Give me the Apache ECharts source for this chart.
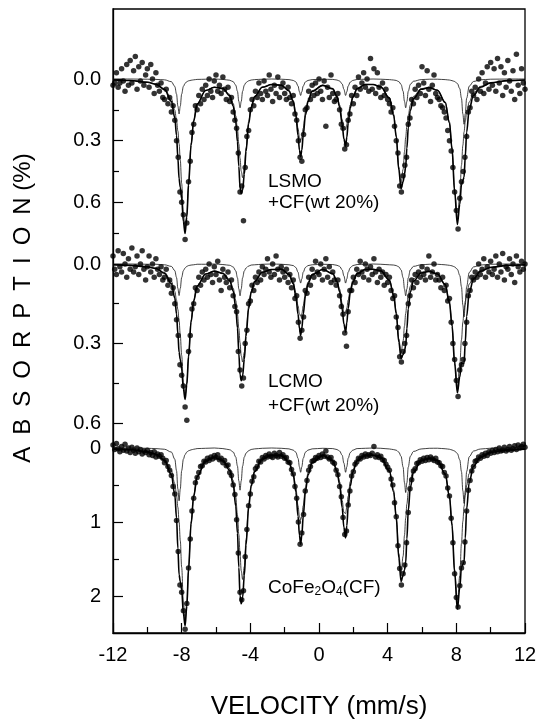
<!DOCTYPE html>
<html><head><meta charset="utf-8">
<script src="https://cdn.jsdelivr.net/npm/echarts@6/dist/echarts.min.js"></script>
<style>html,body{margin:0;padding:0;background:#fff}#chart{width:539px;height:720px}</style>
</head><body><div id="chart"></div>
<script>
// Velocity channels (mm/s)
const velocity = [
-12,-11.9,-11.8,-11.7,-11.6,-11.5,-11.4,-11.3,-11.2,-11.1,
-11,-10.9,-10.8,-10.7,-10.6,-10.5,-10.4,-10.3,-10.2,-10.1,
-10,-9.9,-9.8,-9.7,-9.6,-9.5,-9.4,-9.3,-9.2,-9.1,
-9,-8.9,-8.8,-8.7,-8.6,-8.5,-8.4,-8.3,-8.2,-8.1,
-8,-7.9,-7.8,-7.7,-7.6,-7.5,-7.4,-7.3,-7.2,-7.1,
-7,-6.9,-6.8,-6.7,-6.6,-6.5,-6.4,-6.3,-6.2,-6.1,
-6,-5.9,-5.8,-5.7,-5.6,-5.5,-5.4,-5.3,-5.2,-5.1,
-5,-4.9,-4.8,-4.7,-4.6,-4.5,-4.4,-4.3,-4.2,-4.1,
-4,-3.9,-3.8,-3.7,-3.6,-3.5,-3.4,-3.3,-3.2,-3.1,
-3,-2.9,-2.8,-2.7,-2.6,-2.5,-2.4,-2.3,-2.2,-2.1,
-2,-1.9,-1.8,-1.7,-1.6,-1.5,-1.4,-1.3,-1.2,-1.1,
-1,-0.9,-0.8,-0.7,-0.6,-0.5,-0.4,-0.3,-0.2,-0.1,
0,0.1,0.2,0.3,0.4,0.5,0.6,0.7,0.8,0.9,
1,1.1,1.2,1.3,1.4,1.5,1.6,1.7,1.8,1.9,
2,2.1,2.2,2.3,2.4,2.5,2.6,2.7,2.8,2.9,
3,3.1,3.2,3.3,3.4,3.5,3.6,3.7,3.8,3.9,
4,4.1,4.2,4.3,4.4,4.5,4.6,4.7,4.8,4.9,
5,5.1,5.2,5.3,5.4,5.5,5.6,5.7,5.8,5.9,
6,6.1,6.2,6.3,6.4,6.5,6.6,6.7,6.8,6.9,
7,7.1,7.2,7.3,7.4,7.5,7.6,7.7,7.8,7.9,
8,8.1,8.2,8.3,8.4,8.5,8.6,8.7,8.8,8.9,
9,9.1,9.2,9.3,9.4,9.5,9.6,9.7,9.8,9.9,
10,10.1,10.2,10.3,10.4,10.5,10.6,10.7,10.8,10.9,
11,11.1,11.2,11.3,11.4,11.5,11.6,11.7,11.8,11.9,12];

// Measured absorption (%) — LSMO + CF
const absLSMO = [
0.03,0.02,-0.03,0.04,0.02,-0.05,0.01,0.06,-0.07,0.03,
-0.09,0.02,-0.04,-0.11,0.05,-0.06,0.01,-0.08,0.03,-0.02,
-0.05,0.04,-0.07,0.0,0.07,-0.03,0.03,0.06,0.02,0.09,
0.1,0.05,0.12,0.09,0.16,0.13,0.2,0.3,0.38,0.55,
0.6,0.66,0.78,0.7,0.5,0.4,0.26,0.22,0.13,0.15,
0.08,0.12,0.05,0.1,0.03,0.08,0.0,0.06,0.09,0.01,
-0.02,0.06,0.03,0.07,-0.01,0.05,0.1,0.04,0.11,0.09,
0.16,0.2,0.24,0.36,0.55,0.52,0.69,0.43,0.28,0.25,
0.15,0.1,0.13,0.06,0.09,0.02,0.07,0.1,0.01,0.06,
0.08,-0.02,0.05,0.11,0.03,0.07,-0.01,0.09,0.04,0.02,
0.07,0.1,0.04,0.09,0.12,0.08,0.17,0.2,0.3,0.38,
0.4,0.27,0.15,0.14,0.06,0.1,0.03,0.08,0.02,0.07,
0.0,0.06,0.1,0.01,0.23,0.04,0.09,-0.02,0.07,0.11,
0.1,0.07,0.15,0.22,0.24,0.34,0.32,0.2,0.17,0.08,
0.12,0.04,0.08,-0.01,0.05,0.02,-0.03,0.04,0.0,0.06,
-0.1,0.05,-0.05,0.07,-0.03,0.04,0.09,0.02,0.08,0.05,
0.1,0.12,0.16,0.14,0.23,0.3,0.36,0.52,0.55,0.47,
0.42,0.38,0.22,0.19,0.1,0.12,0.05,0.09,0.03,0.07,
-0.06,0.02,0.08,-0.04,0.05,0.11,0.03,-0.02,0.07,0.09,
0.1,0.13,0.14,0.16,0.19,0.25,0.3,0.35,0.43,0.55,
0.64,0.73,0.58,0.5,0.45,0.38,0.28,0.16,0.14,0.06,
0.08,0.04,0.1,0.0,0.06,-0.03,0.07,0.02,-0.06,0.05,
-0.08,0.03,-0.05,0.06,-0.1,0.02,-0.06,0.08,-0.03,0.04,
-0.09,0.01,0.06,-0.04,0.1,-0.12,0.03,0.07,-0.05,0.02,0.05];

// Measured absorption (%) — LCMO + CF
const absLCMO = [
-0.03,0.02,0.04,-0.05,0.01,0.03,-0.04,0.0,0.05,-0.02,
0.02,-0.06,0.03,0.01,-0.03,0.04,0.0,-0.05,0.02,0.06,
0.01,-0.03,0.03,0.0,0.05,-0.02,0.02,0.04,0.01,0.06,
0.05,0.02,0.08,0.06,0.11,0.09,0.15,0.21,0.27,0.38,
0.42,0.46,0.54,0.59,0.33,0.27,0.17,0.15,0.09,0.1,
0.05,0.08,0.03,0.06,0.02,0.05,0.0,0.04,0.07,0.01,
0.04,-0.01,0.06,0.1,0.02,0.05,0.07,0.03,0.09,0.06,
0.12,0.16,0.18,0.33,0.4,0.46,0.43,0.3,0.25,0.15,
0.14,0.08,0.1,0.05,0.07,0.03,0.06,0.01,0.04,0.02,
-0.02,0.03,0.05,0.0,0.04,-0.03,0.02,0.06,0.01,0.03,
0.05,0.02,0.07,0.04,0.09,0.06,0.13,0.12,0.22,0.28,
0.25,0.2,0.1,0.11,0.05,0.08,0.02,0.05,-0.01,0.03,
0.04,0.0,0.06,0.02,-0.02,0.05,0.01,0.07,0.03,0.06,
0.08,0.06,0.12,0.16,0.19,0.26,0.31,0.18,0.1,0.1,
0.05,0.07,0.02,0.04,-0.01,0.03,0.05,0.0,0.02,0.06,
0.01,0.04,-0.02,0.03,0.07,0.02,0.05,0.03,0.08,0.04,
0.07,0.05,0.1,0.13,0.12,0.2,0.24,0.35,0.37,0.33,
0.3,0.27,0.15,0.12,0.06,0.09,0.04,0.07,0.03,0.05,
0.01,0.04,0.06,0.02,-0.03,0.05,0.03,0.0,0.06,0.04,
0.06,0.09,0.05,0.1,0.08,0.14,0.13,0.22,0.3,0.36,
0.44,0.5,0.4,0.38,0.36,0.3,0.22,0.12,0.1,0.05,
0.06,0.03,0.05,0.0,0.04,0.02,-0.02,0.05,0.01,0.03,
-0.01,0.04,0.02,-0.03,0.05,0.0,0.03,-0.04,0.06,0.01,
0.02,-0.02,0.04,0.0,0.07,-0.03,0.01,0.03,-0.01,0.02,0.0];

// Measured absorption (%) — CoFe2O4
const absCF = [
-0.04,0.02,-0.06,0.01,0.05,-0.02,0.03,-0.05,0.04,0.0,
0.06,-0.01,0.03,0.07,0.0,0.05,0.02,0.08,0.04,0.06,
0.03,0.09,0.06,0.1,0.05,0.12,0.08,0.11,0.09,0.14,
0.2,0.17,0.25,0.3,0.37,0.52,0.62,0.98,1.4,1.85,
1.95,2.2,2.45,2.1,1.62,1.23,0.85,0.68,0.47,0.4,
0.33,0.25,0.24,0.18,0.19,0.14,0.17,0.12,0.15,0.1,
0.13,0.09,0.16,0.14,0.2,0.17,0.24,0.23,0.33,0.37,
0.5,0.63,0.97,1.42,1.95,2.05,1.93,1.47,1.1,0.78,
0.62,0.45,0.39,0.28,0.25,0.18,0.19,0.13,0.15,0.1,
0.12,0.08,0.11,0.13,0.07,0.1,0.12,0.06,0.11,0.09,
0.14,0.13,0.19,0.2,0.29,0.35,0.52,0.68,1.0,1.3,
1.15,0.9,0.58,0.44,0.3,0.25,0.18,0.17,0.13,0.14,
0.1,0.13,0.08,0.11,0.04,0.12,0.15,0.13,0.19,0.21,
0.3,0.36,0.52,0.66,0.94,1.17,1.12,0.77,0.58,0.38,
0.32,0.22,0.19,0.14,0.15,0.1,0.12,0.08,0.11,0.09,
0.1,0.07,-0.02,0.12,0.09,0.13,0.11,0.16,0.17,0.22,
0.26,0.3,0.42,0.5,0.74,0.93,1.32,1.63,1.85,1.7,
1.58,1.28,0.87,0.55,0.43,0.31,0.28,0.21,0.2,0.16,
0.18,0.14,0.17,0.13,0.16,0.12,0.15,0.17,0.14,0.19,
0.2,0.24,0.25,0.33,0.38,0.54,0.65,0.95,1.28,1.7,
2.02,2.15,1.86,1.62,1.55,1.27,0.85,0.57,0.44,0.31,
0.25,0.18,0.17,0.12,0.14,0.09,0.11,0.07,0.1,0.05,
0.07,0.03,0.06,0.02,0.05,0.0,0.04,0.03,-0.01,0.04,
0.02,-0.02,0.03,0.01,-0.03,0.02,-0.04,0.0,-0.02,-0.05,-0.01];

// Fit curves: velocities where the fitted curves are sampled
const fitVelocity = [
-12,-11,-10,-9.5,-9,-8.6,-8.4,-8.3,-8.22,-8.15,-8.08,-8,-7.9,-7.8,-7.7,-7.6,-7.45,-7.3,-7.1,-6.6,-6.1,
-5.6,-5.2,-5,-4.85,-4.75,-4.67,-4.6,-4.53,-4.45,-4.35,-4.25,-4.1,-3.95,-3.75,-3.3,-2.76,
-2.2,-1.75,-1.5,-1.35,-1.22,-1.14,-1.07,-1,-0.92,-0.79,-0.64,-0.4,0.22,
0.8,1.05,1.2,1.35,1.45,1.55,1.62,1.7,1.82,1.97,2.22,2.7,3.15,
3.6,4.1,4.35,4.5,4.65,4.78,4.9,4.98,5.05,5.12,5.2,5.32,5.5,5.95,6.42,
6.9,7.35,7.6,7.75,7.9,8.06,8.2,8.3,8.38,8.45,8.52,8.6,8.75,9,9.4,10,11,12];

const fitLSMO_total = [
0.005,0.007,0.016,0.026,0.051,0.109,0.188,0.274,0.385,0.485,0.527,0.581,0.694,0.751,0.671,0.517,0.321,0.205,0.122,0.056,0.04,
0.046,0.081,0.131,0.209,0.305,0.425,0.526,0.558,0.54,0.463,0.352,0.218,0.139,0.086,0.04,0.027,
0.03,0.058,0.11,0.177,0.274,0.345,0.378,0.345,0.274,0.177,0.11,0.06,0.031,
0.048,0.087,0.136,0.221,0.291,0.326,0.283,0.215,0.141,0.089,0.048,0.027,0.027,
0.039,0.093,0.177,0.282,0.442,0.534,0.499,0.463,0.424,0.336,0.237,0.153,0.096,0.05,0.042,
0.055,0.114,0.214,0.342,0.547,0.707,0.61,0.514,0.493,0.478,0.378,0.259,0.147,0.079,0.04,0.019,0.008,0.005];
const fitLSMO_siteA = [
0,0,0.001,0.002,0.004,0.013,0.036,0.073,0.132,0.17,0.132,0.073,0.036,0.021,0.013,0.009,0.006,0.004,0.002,0.001,0,
0.002,0.006,0.013,0.03,0.06,0.109,0.14,0.109,0.06,0.03,0.017,0.009,0.005,0.003,0.001,0,
0.001,0.003,0.007,0.014,0.034,0.062,0.08,0.062,0.034,0.014,0.007,0.003,0.001,
0.002,0.005,0.01,0.024,0.05,0.08,0.062,0.034,0.015,0.007,0.002,0.001,0,
0.001,0.003,0.005,0.007,0.013,0.026,0.06,0.109,0.14,0.109,0.06,0.026,0.011,0.003,0.001,
0.001,0.003,0.005,0.008,0.012,0.022,0.047,0.094,0.17,0.22,0.17,0.094,0.035,0.012,0.004,0.001,0,0];
const fitLSMO_siteB = [
0.005,0.007,0.015,0.024,0.047,0.096,0.152,0.201,0.253,0.315,0.395,0.508,0.658,0.73,0.658,0.508,0.315,0.201,0.12,0.055,0.04,
0.044,0.075,0.118,0.179,0.245,0.316,0.386,0.449,0.48,0.433,0.335,0.209,0.134,0.083,0.039,0.027,
0.029,0.055,0.103,0.163,0.24,0.283,0.298,0.283,0.24,0.163,0.103,0.057,0.03,
0.046,0.082,0.126,0.197,0.241,0.246,0.221,0.181,0.126,0.082,0.046,0.026,0.027,
0.038,0.09,0.172,0.275,0.429,0.508,0.439,0.354,0.284,0.227,0.177,0.127,0.085,0.047,0.041,
0.054,0.111,0.209,0.334,0.535,0.685,0.563,0.42,0.323,0.258,0.208,0.165,0.112,0.067,0.036,0.018,0.008,0.005];

const fitLCMO_total = [
0.003,0.005,0.011,0.017,0.035,0.074,0.128,0.188,0.264,0.333,0.361,0.396,0.472,0.511,0.456,0.351,0.218,0.14,0.083,0.038,0.027,
0.036,0.063,0.102,0.164,0.241,0.337,0.417,0.44,0.422,0.359,0.273,0.169,0.107,0.067,0.031,0.021,
0.02,0.039,0.074,0.121,0.189,0.243,0.269,0.243,0.189,0.121,0.074,0.041,0.021,
0.037,0.067,0.104,0.17,0.226,0.257,0.222,0.167,0.109,0.068,0.037,0.021,0.02,
0.026,0.062,0.118,0.188,0.294,0.357,0.342,0.328,0.307,0.244,0.169,0.106,0.065,0.034,0.028,
0.038,0.078,0.147,0.234,0.375,0.486,0.426,0.372,0.375,0.375,0.296,0.198,0.108,0.057,0.028,0.013,0.005,0.003];
const fitLCMO_siteA = [
0,0,0.001,0.001,0.003,0.009,0.025,0.051,0.092,0.119,0.092,0.051,0.025,0.015,0.009,0.006,0.004,0.003,0.001,0.001,0,
0.002,0.005,0.011,0.026,0.052,0.094,0.12,0.094,0.052,0.026,0.015,0.008,0.004,0.003,0.001,0,
0.001,0.003,0.006,0.013,0.031,0.056,0.072,0.056,0.031,0.013,0.006,0.003,0.001,
0.002,0.005,0.009,0.022,0.045,0.072,0.056,0.031,0.014,0.006,0.002,0.001,0,
0.001,0.003,0.004,0.006,0.011,0.022,0.052,0.094,0.12,0.094,0.052,0.022,0.009,0.003,0.001,
0.001,0.003,0.005,0.007,0.011,0.02,0.043,0.086,0.155,0.2,0.155,0.086,0.032,0.011,0.004,0.001,0,0];
const fitLCMO_siteB = [
0.003,0.005,0.01,0.016,0.032,0.065,0.103,0.137,0.172,0.214,0.269,0.345,0.447,0.496,0.447,0.345,0.214,0.137,0.082,0.037,0.027,
0.034,0.058,0.091,0.138,0.189,0.243,0.297,0.346,0.37,0.333,0.258,0.161,0.103,0.064,0.03,0.021,
0.019,0.036,0.068,0.108,0.158,0.187,0.197,0.187,0.158,0.108,0.068,0.038,0.02,
0.035,0.062,0.095,0.148,0.181,0.185,0.166,0.136,0.095,0.062,0.035,0.02,0.02,
0.025,0.059,0.114,0.182,0.283,0.335,0.29,0.234,0.187,0.15,0.117,0.084,0.056,0.031,0.027,
0.037,0.075,0.142,0.227,0.364,0.466,0.383,0.286,0.22,0.175,0.141,0.112,0.076,0.046,0.024,0.012,0.005,0.003];

const fitCF_total = [
0.016,0.022,0.052,0.084,0.166,0.359,0.633,0.944,1.356,1.713,1.806,1.917,2.237,2.402,2.141,1.648,1.024,0.654,0.388,0.178,0.127,
0.171,0.302,0.49,0.784,1.151,1.613,1.998,2.105,2.02,1.724,1.309,0.81,0.516,0.319,0.148,0.1,
0.099,0.191,0.365,0.588,0.921,1.177,1.299,1.177,0.921,0.588,0.365,0.198,0.102,
0.174,0.316,0.495,0.807,1.073,1.214,1.05,0.791,0.516,0.324,0.174,0.098,0.097,
0.131,0.313,0.595,0.946,1.485,1.804,1.72,1.648,1.548,1.225,0.847,0.535,0.33,0.17,0.141,
0.169,0.351,0.659,1.052,1.683,2.178,1.888,1.609,1.57,1.54,1.217,0.827,0.463,0.247,0.125,0.058,0.025,0.015];
const fitCF_siteA = [
0,0,0.004,0.008,0.017,0.055,0.151,0.307,0.554,0.714,0.554,0.307,0.151,0.088,0.055,0.038,0.025,0.017,0.008,0.004,0,
0.008,0.024,0.053,0.122,0.244,0.444,0.57,0.444,0.244,0.122,0.069,0.037,0.02,0.012,0.004,0,
0.004,0.012,0.029,0.057,0.139,0.254,0.328,0.254,0.139,0.057,0.029,0.012,0.004,
0.008,0.021,0.041,0.098,0.205,0.328,0.254,0.139,0.062,0.029,0.008,0.004,0,
0.004,0.013,0.022,0.03,0.056,0.112,0.258,0.469,0.602,0.469,0.258,0.112,0.047,0.013,0.004,
0.003,0.01,0.017,0.027,0.041,0.075,0.16,0.32,0.578,0.748,0.578,0.32,0.119,0.041,0.014,0.003,0,0];
const fitCF_siteB = [
0.016,0.022,0.048,0.076,0.149,0.304,0.482,0.637,0.802,0.999,1.252,1.61,2.086,2.314,2.086,1.61,0.999,0.637,0.38,0.174,0.127,
0.163,0.278,0.437,0.662,0.907,1.169,1.428,1.661,1.776,1.602,1.24,0.773,0.496,0.307,0.144,0.1,
0.095,0.179,0.336,0.531,0.782,0.923,0.971,0.923,0.782,0.531,0.336,0.186,0.098,
0.166,0.295,0.454,0.709,0.868,0.886,0.796,0.652,0.454,0.295,0.166,0.094,0.097,
0.127,0.3,0.573,0.916,1.429,1.692,1.462,1.179,0.946,0.756,0.589,0.423,0.283,0.157,0.137,
0.166,0.341,0.642,1.025,1.642,2.103,1.728,1.289,0.992,0.792,0.639,0.507,0.344,0.206,0.111,0.055,0.025,0.015];

// Tick labels
const xTickLabels = [-12,-8,-4,0,4,8,12];
const yTicksLSMO = [0,0.3,0.6], yMinorLSMO = [0.15,0.45,0.75];
const yTicksLCMO = [0,0.3,0.6], yMinorLCMO = [0.15,0.45];
const yTicksCF = [0,1,2], yMinorCF = [0.5,1.5];

const FONT = '"Liberation Sans", Arial, Helvetica, sans-serif';
const GRID = {left:113, right:14, top:9, bottom:87, containLabel:false, outerBoundsMode:'none'};

const panels = [
  {min:-0.3405, max:2.6945, major:yTicksLSMO, minor:yMinorLSMO, fmt:v=>Number(v).toFixed(1),
   abs:absLSMO, total:fitLSMO_total, a:fitLSMO_siteA, b:fitLSMO_siteB},
  {min:-0.9623, max:1.3925, major:yTicksLCMO, minor:yMinorLCMO, fmt:v=>Number(v).toFixed(1),
   abs:absLCMO, total:fitLCMO_total, a:fitLCMO_siteA, b:fitLCMO_siteB},
  {min:-5.9324, max:2.5, major:yTicksCF, minor:yMinorCF, fmt:v=>String(Math.round(v)),
   abs:absCF, total:fitCF_total, a:fitCF_siteA, b:fitCF_siteB}
];

const grid = panels.map((p,i)=>Object.assign({}, GRID, {
  show: i===0, borderColor:'#000', borderWidth:1.3, backgroundColor:'transparent'
}));

const xAxis = panels.map((p,i)=> i<2 ? {
  type:'value', gridIndex:i, min:-12, max:12, show:false, axisLine:{onZero:false}
} : {
  type:'value', gridIndex:i, min:-12, max:12, interval:4, position:'bottom',
  axisLine:{show:true, onZero:false, lineStyle:{color:'#000', width:1.3}},
  axisTick:{show:true, inside:true, length:10, lineStyle:{color:'#000', width:1.2}},
  minorTick:{show:true, splitNumber:2, length:6, lineStyle:{color:'#000', width:1.2}},
  splitLine:{show:false}, minorSplitLine:{show:false},
  axisLabel:{fontSize:20, color:'#000', margin:12, fontFamily:FONT,
    formatter: v => xTickLabels.indexOf(v) >= 0 ? String(v) : ''},
  name:'VELOCITY (mm/s)', nameLocation:'middle', nameGap:61,
  nameTextStyle:{fontSize:26, color:'#000', fontFamily:FONT}
});

const yAxis = [];
panels.forEach((p,i)=>{
  yAxis.push({
    type:'value', gridIndex:i, inverse:true, min:p.min, max:p.max, position:'left', offset:0,
    axisLine:{show:i===0, onZero:false, lineStyle:{color:'#000', width:1.3}},
    axisTick:{show:true, inside:true, length:10, customValues:p.major, lineStyle:{color:'#000', width:1.2}},
    axisLabel:{show:true, customValues:p.major, formatter:p.fmt, fontSize:20, color:'#000', margin:12, fontFamily:FONT},
    splitLine:{show:false}
  });
  yAxis.push({
    type:'value', gridIndex:i, inverse:true, min:p.min, max:p.max, position:'left', offset:0,
    axisLine:{show:false, onZero:false},
    axisTick:{show:true, inside:true, length:6, customValues:p.minor, lineStyle:{color:'#000', width:1.2}},
    axisLabel:{show:false},
    splitLine:{show:false}
  });
});

const series = [];
panels.forEach((p,i)=>{
  series.push({type:'scatter', xAxisIndex:i, yAxisIndex:2*i, symbol:'circle', symbolSize:5.5,
    itemStyle:{color:'#000'}, silent:true, z:2,
    data: velocity.map((v,k)=>[v, p.abs[k]])});
  series.push({type:'line', xAxisIndex:i, yAxisIndex:2*i, showSymbol:false, smooth:0.35, smoothMonotone:'x',
    lineStyle:{color:'#111', width:0.8}, silent:true, z:3,
    data: fitVelocity.map((v,k)=>[v, p.a[k]])});
  series.push({type:'line', xAxisIndex:i, yAxisIndex:2*i, showSymbol:false, smooth:0.35, smoothMonotone:'x',
    lineStyle:{color:'#111', width:0.8}, silent:true, z:3,
    data: fitVelocity.map((v,k)=>[v, p.b[k]])});
  series.push({type:'line', xAxisIndex:i, yAxisIndex:2*i, showSymbol:false, smooth:0.35, smoothMonotone:'x',
    lineStyle:{color:'#000', width:1.6}, silent:true, z:4,
    data: fitVelocity.map((v,k)=>[v, p.total[k]])});
});

const txt = (x,y,text,extra)=>({type:'text', x:x, y:y, silent:true, z:10,
  style:Object.assign({text:text, fontSize:19, fontFamily:FONT, fill:'#000', align:'left', verticalAlign:'middle'}, extra||{})});

const graphic = [
  txt(268,182,'LSMO'),
  txt(268,203,'+CF(wt 20%)'),
  txt(268,382,'LCMO'),
  txt(268,406,'+CF(wt 20%)'),
  {type:'text', x:268, y:588, silent:true, z:10, style:{
    text:'{n|CoFe}{s|2}{n|O}{s|4}{n|(CF)}', fontFamily:FONT, fill:'#000', align:'left', verticalAlign:'middle',
    rich:{n:{fontSize:19, fontFamily:FONT, fill:'#000', verticalAlign:'middle', lineHeight:20},
          s:{fontSize:12, fontFamily:FONT, fill:'#000', verticalAlign:'bottom', lineHeight:12, padding:[14,0,0,0]}}
  }},
  {type:'text', x:23, y:308, rotation:Math.PI/2, silent:true, z:10, style:{
    text:'A\u2002B\u2002S\u2002O\u2002R\u2002P\u2002T\u2002I\u2002O\u2002N (%)', fontSize:24, fontFamily:FONT,
    fill:'#000', align:'center', verticalAlign:'middle'}}
];

const chart = echarts.init(document.getElementById('chart'), null, {renderer:'canvas'});
chart.setOption({animation:false, backgroundColor:'#fff', grid, xAxis, yAxis, series, graphic});
</script>
</body></html>
